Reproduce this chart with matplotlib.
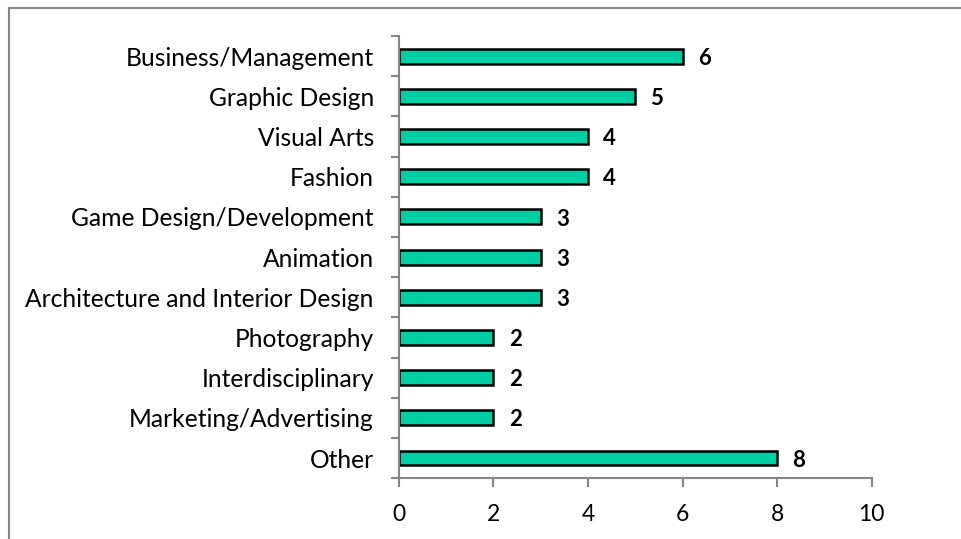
import matplotlib.pyplot as plt
from matplotlib.lines import Line2D

plt.rcParams['font.family'] = ['Lato', 'DejaVu Sans']

categories = ["Business/Management", "Graphic Design", "Visual Arts", "Fashion",
              "Game Design/Development", "Animation",
              "Architecture and Interior Design", "Photography",
              "Interdisciplinary", "Marketing/Advertising", "Other"]
counts = [6, 5, 4, 4, 3, 3, 3, 2, 2, 2, 8]
xticks = [0, 2, 4, 6, 8, 10]

BAR_COLOR = "#00cfa4"
AXIS_COLOR = "#868686"

fig = plt.figure(figsize=(9.61, 5.39), dpi=100)
ax = fig.add_axes([0.415, 0.113, 0.492, 0.820])

pos = list(range(len(categories)))[::-1]
ax.barh(pos, counts, height=0.37, color=BAR_COLOR, edgecolor='black', linewidth=1.8)

for y, v in zip(pos, counts):
    ax.annotate(str(v), (v, y), xytext=(11, -1.5), textcoords='offset points',
                ha='left', va='center', fontsize=16, fontweight='bold')

ax.set_xlim(0, 10)
ax.set_ylim(-0.5, len(categories) - 0.5)
ax.set_xticks(xticks)
ax.set_yticks(pos)
ax.set_yticklabels(categories)
ax.set_yticks([p - 0.5 for p in range(len(categories) + 1)], minor=True)

for s in ['top', 'right']:
    ax.spines[s].set_visible(False)
for s in ['left', 'bottom']:
    ax.spines[s].set_color(AXIS_COLOR)
    ax.spines[s].set_linewidth(1.5)

ax.tick_params(axis='x', direction='out', length=6.5, width=1.5, color=AXIS_COLOR,
               labelsize=16.5, pad=12)
ax.tick_params(axis='y', which='major', length=0, labelsize=17.7, pad=18)
ax.tick_params(axis='y', which='minor', direction='out', length=6, width=1.5,
               color=AXIS_COLOR)

# outer frame (top and left edges visible in the reference)
fig.add_artist(Line2D([0.009, 1.0], [0.986, 0.986], color=AXIS_COLOR, lw=1.5,
                      transform=fig.transFigure))
fig.add_artist(Line2D([0.009, 0.009], [0.0, 0.986], color=AXIS_COLOR, lw=1.5,
                      transform=fig.transFigure))

plt.savefig("out.png", dpi=100)
